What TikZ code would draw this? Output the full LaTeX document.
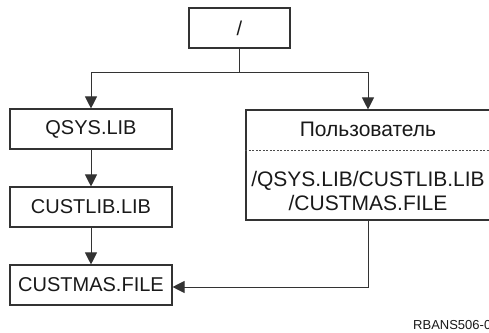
\documentclass[tikz,border=0pt]{standalone}
\usepackage{fontspec}
\setmainfont{Liberation Sans}
\usetikzlibrary{arrows.meta}

\tikzset{
  box/.style={draw=black!80, line width=1.1pt, minimum width=162pt, minimum height=40pt,
    inner sep=0pt, font=\fontsize{20}{24}\selectfont, text=black!90},
  boxtext/.style={inner sep=0pt, font=\fontsize{21}{24}\selectfont, text=black!90},
  link/.style={draw=black!80, line width=1pt, -{Triangle[width=12pt,length=12pt]}}
}

\begin{document}
\begin{tikzpicture}[x=1pt,y=1pt]
    \useasboundingbox (0,0) rectangle (489,332);
    \node[box, minimum width=101pt] (root) at (239.5,304) {/};
    \node[box] (qsys) at (91,203) {QSYS.LIB};
    \node[box] (custlib) at (91,125) {CUSTLIB.LIB};
    \node[box] (custmas) at (91,47) {CUSTMAS.FILE};
    \node[box, minimum width=245pt, minimum height=110pt] (user) at (368.5,167) {};
    \node[boxtext] (usr) at (368,202.5) {Пользователь};
    \node[boxtext, align=center] (path) at (368,141) {/QSYS.LIB/CUSTLIB.LIB\\/CUSTMAS.FILE};
    \draw[black!70, line width=0.6pt, dash pattern=on 2pt off 1.5pt] (user.west |- 0,182) -- (user.east |- 0,182);
    \coordinate (fork) at (239.5,259);
    \coordinate (bend) at (368,45);
    \draw[draw=black!80, line width=1pt] (root.south) -- (fork);
    \draw[link] (fork) -| (qsys.north);
    \draw[link] (fork) -| (bend |- user.north);
    \draw[link] (qsys) -- (custlib);
    \draw[link] (custlib) -- (custmas);
    \draw[link] (bend |- user.south) -- (bend) -- (custmas.east |- bend);
    \node[anchor=west, font=\fontsize{13}{15}\selectfont, text=black!90, inner sep=0pt] (tag) at (413,7) {RBANS506-0};
\end{tikzpicture}
\end{document}
